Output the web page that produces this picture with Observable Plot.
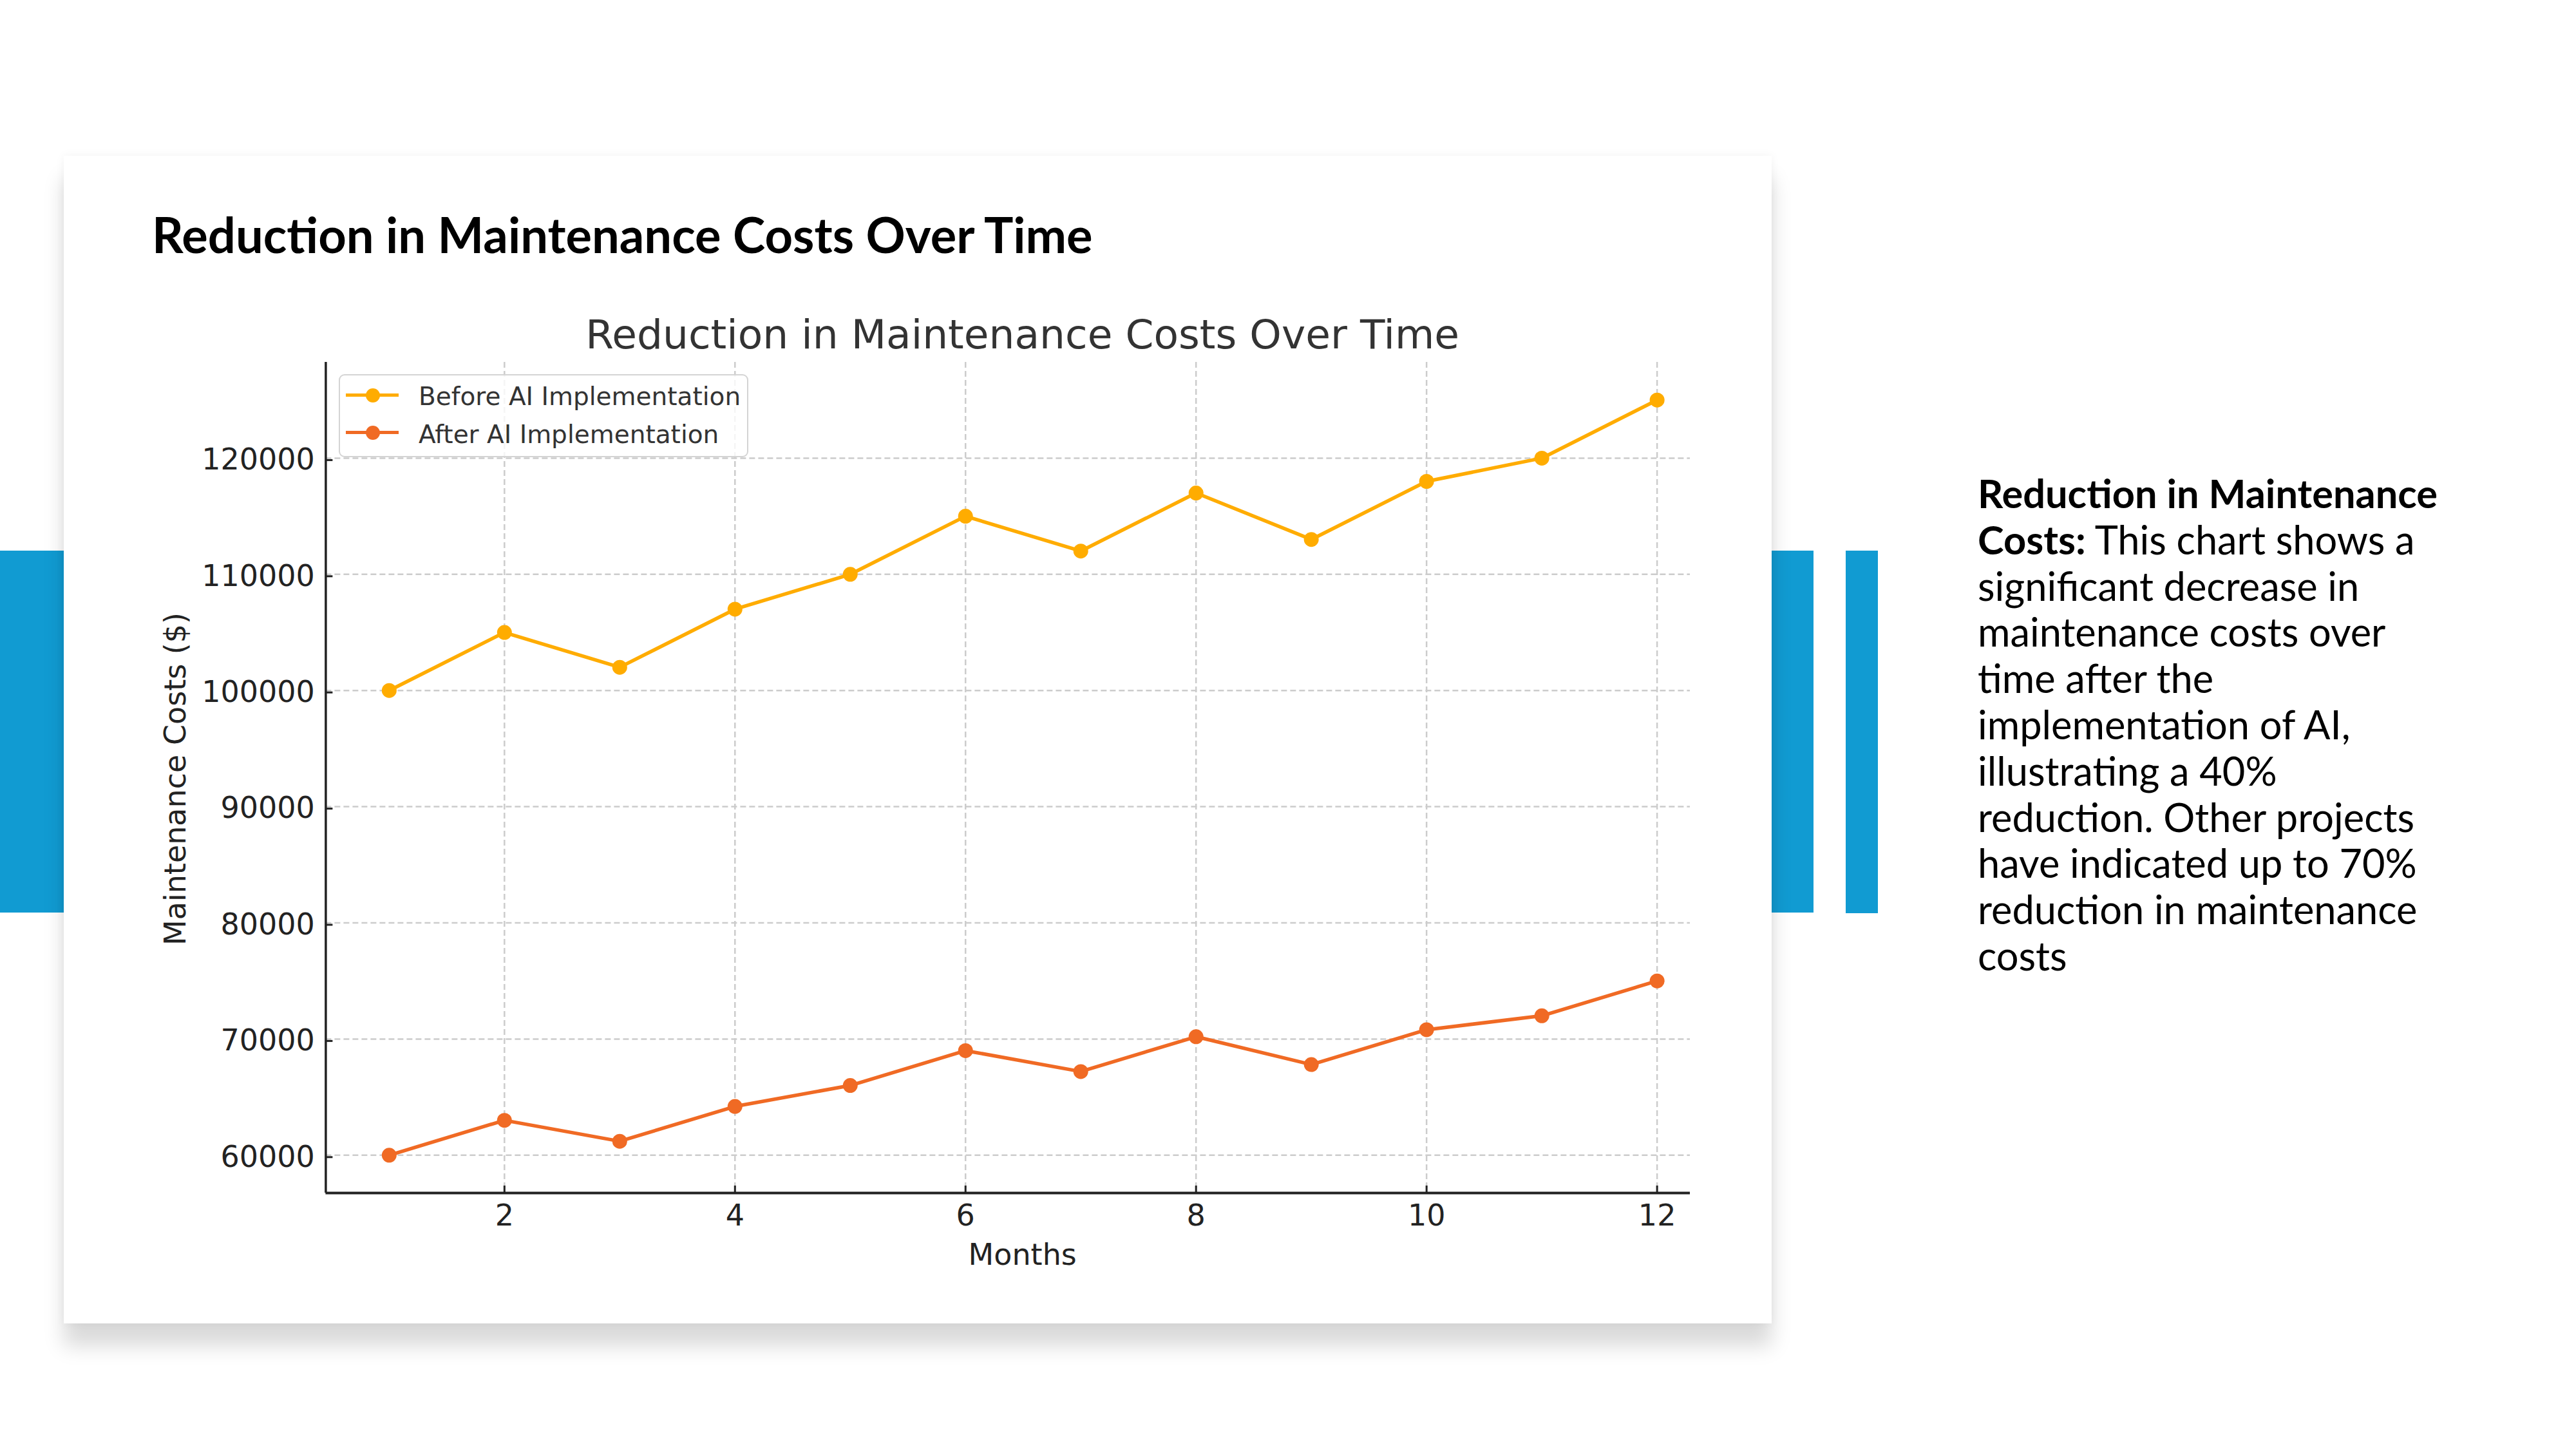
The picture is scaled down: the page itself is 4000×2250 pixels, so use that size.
<!DOCTYPE html>
<html>
<head>
<meta charset="utf-8">
<script src="https://cdn.jsdelivr.net/npm/d3@7"></script>
<script src="https://cdn.jsdelivr.net/npm/@observablehq/plot@0.6"></script>
<style>
  html, body { margin: 0; padding: 0; background: #ffffff; }
  body { width: 4000px; height: 2250px; position: relative; overflow: hidden; font-family: Lato, "Open Sans", sans-serif; }
  .bar { position: absolute; background: #119BD2; z-index: 0; }
  #card { position: absolute; left: 99px; top: 242px; width: 2652px; height: 1813px; background: #ffffff;
          box-shadow: 0 35px 30px rgba(0,0,0,0.15), 0 0 14px rgba(0,0,0,0.05); z-index: 1; }
  #hdr { position: absolute; left: 236px; top: 300px; font-weight: 700; color: #000; white-space: nowrap; z-index: 3; line-height: 1.2; }
  #para { position: absolute; left: 3071px; top: 730px; color: #000; white-space: nowrap; line-height: 71.8px; z-index: 3; }
  #chart { position: absolute; left: 200px; top: 440px; width: 2500px; height: 1620px; z-index: 2; }
  #legendBox { position: absolute; left: 526px; top: 581px; width: 636px; height: 129px; box-sizing: border-box;
               border: 2.5px solid #d4d4d4; border-radius: 9px; background: rgba(255,255,255,0.8); z-index: 4; }
  .swLine { position: absolute; height: 5.5px; width: 82px; z-index: 5; }
  .swDot { position: absolute; width: 22px; height: 22px; border-radius: 50%; z-index: 6; }
  .lgText { position: absolute; font-family: "DejaVu Sans", sans-serif; font-size: 39px; color: #333; white-space: nowrap; line-height: 1.2; z-index: 6; }
</style>
</head>
<body>
<div class="bar" style="left:0px; top:855px; width:99px; height:562px;"></div>
<div class="bar" style="left:2751px; top:855px; width:65px; height:562px;"></div>
<div class="bar" style="left:2866px; top:855px; width:50px; height:563px;"></div>
<div id="card"></div>
<div id="hdr"></div>
<div id="para"></div>
<div id="chart"></div>
<div id="legendBox"></div>
<script>
// ---- data ----
const months = [1, 2, 3, 4, 5, 6, 7, 8, 9, 10, 11, 12];
const beforeCosts = [100000, 105000, 102000, 107000, 110000, 115000, 112000, 117000, 113000, 118000, 120000, 125000];
const afterCosts = [60000, 63000, 61200, 64200, 66000, 69000, 67200, 70200, 67800, 70800, 72000, 75000];
const seriesNames = ["Before AI Implementation", "After AI Implementation"];
const seriesColors = ["#FFAC00", "#F06A24"];
const xTicks = [2, 4, 6, 8, 10, 12];
const yTicks = [60000, 70000, 80000, 90000, 100000, 110000, 120000];
const xDomain = [0.45, 12.287];
const yDomain = [56750, 128250];
const chartTitle = "Reduction in Maintenance Costs Over Time";
const xLabel = "Months";
const yLabel = "Maintenance Costs ($)";
const slideTitle = "Reduction in Maintenance Costs Over Time";
const noteBoldLines = ["Reduction in Maintenance", "Costs:"];
const noteLines = [" This chart shows a", "significant decrease in", "maintenance costs over", "time after the",
  "implementation of AI,", "illustrating a 40%", "reduction. Other projects", "have indicated up to 70%",
  "reduction in maintenance", "costs"];

// ---- table for Plot ----
const seriesValues = [beforeCosts, afterCosts];
const rows = [];
seriesNames.forEach((s, si) => months.forEach((m, i) => rows.push({month: m, cost: seriesValues[si][i], series: s})));

const gridStyle = {stroke: "#cccccc", strokeOpacity: 1, strokeWidth: 2.5, strokeDasharray: "9,5"};

const chart = Plot.plot({
  width: 2500,
  height: 1620,
  marginLeft: 305.4,
  marginRight: 76,
  marginTop: 122.1,
  marginBottom: 208.1,
  style: {fontFamily: "'DejaVu Sans', sans-serif", background: "transparent", overflow: "visible"},
  x: {domain: xDomain},
  y: {domain: yDomain},
  color: {domain: seriesNames, range: seriesColors},
  marks: [
    Plot.gridX(xTicks, gridStyle),
    Plot.gridY(yTicks, gridStyle),
    Plot.ruleX([xDomain[0]], {stroke: "#222", strokeWidth: 3.5}),
    Plot.ruleY([yDomain[0]], {stroke: "#222", strokeWidth: 4}),
    Plot.axisX(xTicks, {anchor: "bottom", tickSize: -11, tickPadding: 29, fontSize: 46, stroke: "#222", fill: "#222", strokeWidth: 3, tickFormat: d => String(d), label: null}),
    Plot.axisY(yTicks, {anchor: "left", tickSize: -11, tickPadding: 28, fontSize: 46, stroke: "#222", fill: "#222", strokeWidth: 3, tickFormat: d => String(d), label: null, dy: 3}),
    Plot.line(rows, {x: "month", y: "cost", stroke: "series", strokeWidth: 5.5}),
    Plot.dot(rows, {x: "month", y: "cost", fill: "series", r: 11.5}),
    Plot.text([chartTitle], {text: d => d, frameAnchor: "top", dx: 22.5, dy: -22, lineAnchor: "bottom", fontSize: 63, fill: "#333"}),
    Plot.text([xLabel], {text: d => d, frameAnchor: "bottom", dx: 22.5, dy: 112, lineAnchor: "bottom", fontSize: 46, fill: "#222"}),
    Plot.text([yLabel], {text: d => d, frameAnchor: "left", textAnchor: "middle", rotate: -90, dx: -218, dy: 2, lineAnchor: "bottom", fontSize: 46, fill: "#222"})
  ]
});
document.getElementById("chart").appendChild(chart);

// ---- legend (matplotlib-style, inside the axes) ----
const legendRows = [{cy: 613.6, base: 629}, {cy: 671.6, base: 688}];
const legendTexts = [];
seriesNames.forEach((s, i) => {
  const ln = document.createElement("div");
  ln.className = "swLine";
  ln.style.left = "537px";
  ln.style.top = (legendRows[i].cy - 2.75) + "px";
  ln.style.background = seriesColors[i];
  document.body.appendChild(ln);
  const dt = document.createElement("div");
  dt.className = "swDot";
  dt.style.left = (579 - 11) + "px";
  dt.style.top = (legendRows[i].cy - 11) + "px";
  dt.style.background = seriesColors[i];
  document.body.appendChild(dt);
  const tx = document.createElement("div");
  tx.className = "lgText";
  tx.textContent = s;
  tx.style.left = "650px";
  tx.style.top = (legendRows[i].base - 36) + "px";
  document.body.appendChild(tx);
  legendTexts.push({el: tx, base: legendRows[i].base});
});

// ---- slide texts ----
const hdr = document.getElementById("hdr");
hdr.textContent = slideTitle;
const para = document.getElementById("para");
para.innerHTML = "<b>" + noteBoldLines[0] + "</b><br><b>" + noteBoldLines[1] + "</b>" + noteLines[0] + "<br>" +
  noteLines.slice(1).map((t, i) => i === 6 ? '<span id="refLine">' + t + "</span>" : t).join("<br>");

function baselineOf(el) {
  const s = document.createElement("span");
  s.style.cssText = "display:inline-block;width:0;height:0;vertical-align:baseline;";
  el.insertBefore(s, el.firstChild);
  const b = s.getBoundingClientRect().bottom;
  s.remove();
  return b;
}
function placeBaseline(el, target) {
  const cur = parseFloat(el.style.top || getComputedStyle(el).top);
  const b = baselineOf(el);
  el.style.top = (cur + target - b) + "px";
}
function layout() {
  hdr.style.fontSize = "79px";
  const w = hdr.getBoundingClientRect().width;
  hdr.style.fontSize = (79 * 1461 / w) + "px";
  placeBaseline(hdr, 393);

  para.style.fontSize = "60px";
  const rw = document.getElementById("refLine").getBoundingClientRect().width;
  para.style.fontSize = (60 * 682 / rw) + "px";
  placeBaseline(para, 789);

  legendTexts.forEach(t => placeBaseline(t.el, t.base));
}
layout();
if (document.fonts && document.fonts.ready) document.fonts.ready.then(layout);
</script>
</body>
</html>
